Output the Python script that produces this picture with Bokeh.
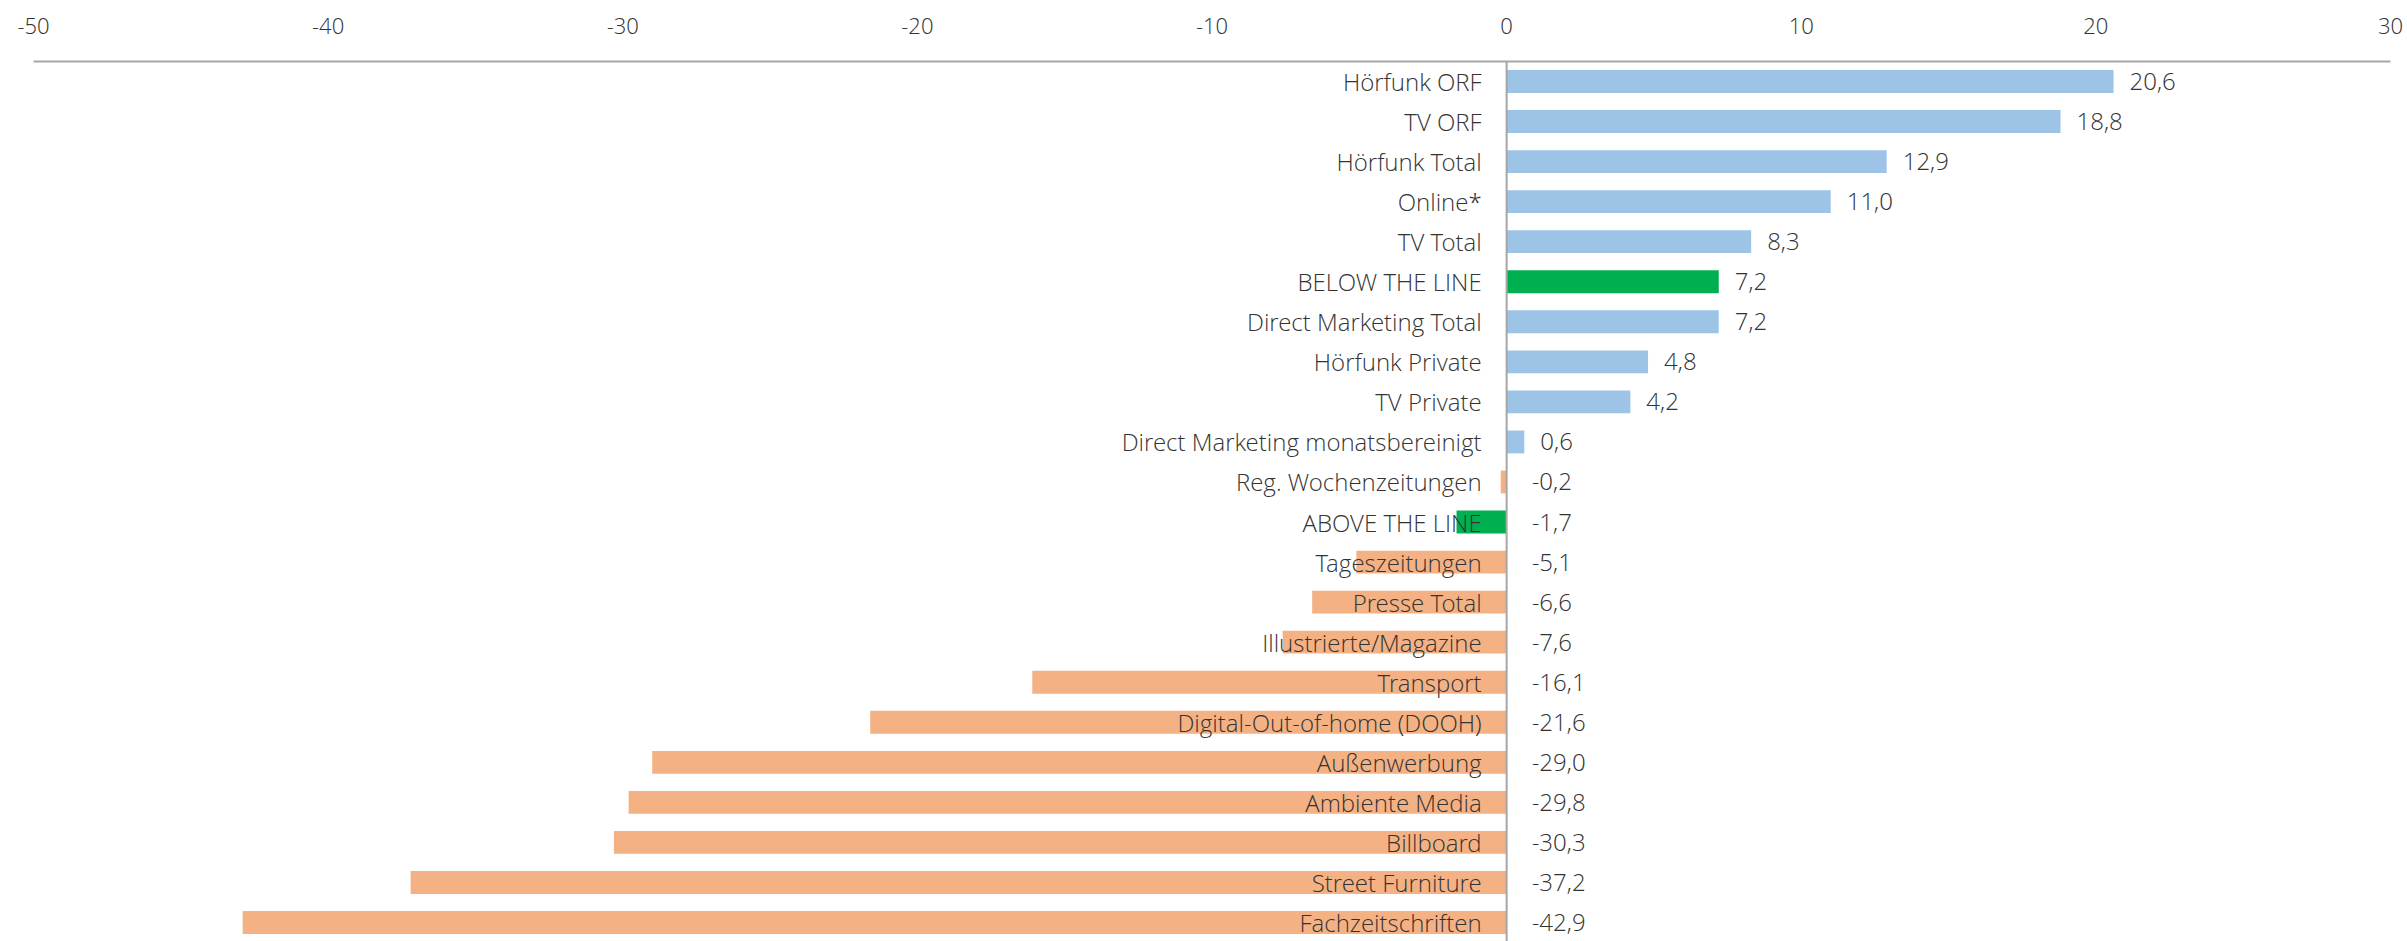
from bokeh.plotting import figure
from bokeh.models import ColumnDataSource, Range1d, FixedTicker, Span, PrintfTickFormatter
from bokeh.core.properties import value
from bokeh.embed import file_html
from bokeh.resources import INLINE

categories = ["Hörfunk ORF", "TV ORF", "Hörfunk Total", "Online*", "TV Total",
              "BELOW THE LINE", "Direct Marketing Total", "Hörfunk Private", "TV Private",
              "Direct Marketing monatsbereinigt", "Reg. Wochenzeitungen", "ABOVE THE LINE",
              "Tageszeitungen", "Presse Total", "Illustrierte/Magazine", "Transport",
              "Digital-Out-of-home (DOOH)", "Außenwerbung", "Ambiente Media", "Billboard",
              "Street Furniture", "Fachzeitschriften"]
values = [20.6, 18.8, 12.9, 11.0, 8.3, 7.2, 7.2, 4.8, 4.2, 0.6, -0.2, -1.7,
          -5.1, -6.6, -7.6, -16.1, -21.6, -29.0, -29.8, -30.3, -37.2, -42.9]
highlighted = ["BELOW THE LINE", "ABOVE THE LINE"]
x_ticks = [-50, -40, -30, -20, -10, 0, 10, 20, 30]

BLUE = "#9DC3E6"
ORANGE = "#F4B183"
GREEN = "#00B050"
TEXT = "#333333"
FONT = "'Open Sans Light', 'Open Sans'"

colors = [GREEN if c in highlighted else (BLUE if v >= 0 else ORANGE)
          for c, v in zip(categories, values)]
pos = list(range(len(categories)))
val_labels = [f"{v:.1f}".replace(".", ",") for v in values]

src = ColumnDataSource(dict(
    y=pos, cat=categories, v=values, color=colors, lab=val_labels,
    zero=[0] * len(values),
    labx=[v if v > 0 else 0 for v in values],
    laboff=[16 if v > 0 else 25 for v in values],
))

p = figure(width=2407, height=941, output_backend="svg", toolbar_location=None,
           x_range=Range1d(-50, 30), y_range=Range1d(21.474, -0.499),
           x_axis_location="above", min_border_left=33, min_border_right=17,
           min_border_top=61, min_border_bottom=0)
p.outline_line_color = None
p.xgrid.visible = False
p.ygrid.visible = False
p.yaxis.visible = False

ax = p.xaxis[0]
ax.ticker = FixedTicker(ticks=x_ticks)
ax.formatter = PrintfTickFormatter(format="%d")
ax.major_tick_line_color = None
ax.minor_tick_line_color = None
ax.axis_line_color = "#a6a6a6"
ax.axis_line_width = 2
ax.major_label_text_font = FONT
ax.major_label_text_font_size = "22px"
ax.major_label_text_color = TEXT
ax.major_label_standoff = 22

p.hbar(y="y", left=0, right="v", height=0.57, color="color", line_color=None, source=src)

p.add_layout(Span(location=0, dimension="height", line_color="#a6a6a6", line_width=2))

p.text(x="zero", y="y", text="cat", x_offset=-25, text_align="right",
       text_baseline="middle", text_font=value(FONT), text_font_size="24px",
       text_color=TEXT, source=src)
p.text(x="labx", y="y", text="lab", x_offset="laboff", text_align="left",
       text_baseline="middle", text_font=value(FONT), text_font_size="24px",
       text_color=TEXT, source=src)

open("out.html", "w").write(file_html(p, INLINE))
